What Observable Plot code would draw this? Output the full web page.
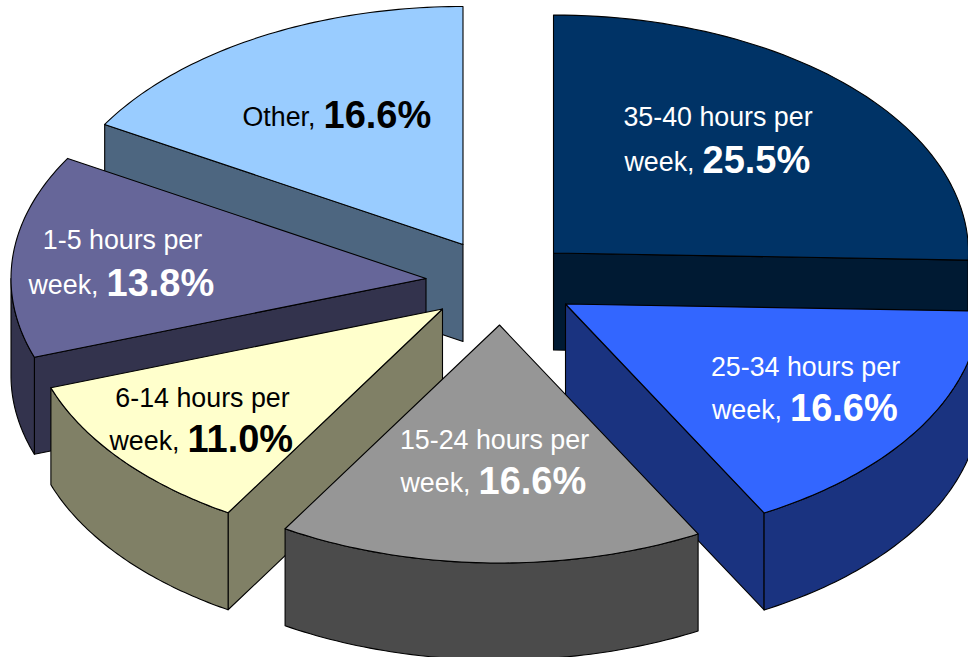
<!DOCTYPE html>
<html>
<head>
<meta charset="utf-8">
<script src="https://cdn.jsdelivr.net/npm/d3@7"></script>
<script src="https://cdn.jsdelivr.net/npm/@observablehq/plot@0.6"></script>
<style>html,body{margin:0;padding:0;background:#fff}svg{display:block}</style>
</head>
<body>
<div id="chart"></div>
<script>
// Data, clockwise from twelve o'clock
const categories = ["35-40 hours per week", "25-34 hours per week", "15-24 hours per week", "6-14 hours per week", "1-5 hours per week", "Other"];
const shares = [25.5, 16.6, 16.6, 11.0, 13.8, 16.6];

// Style and layout, kept apart from the data
const topColors = ["#003366", "#3366FF", "#969696", "#FFFFCC", "#666699", "#99CCFF"];
const sideColors = ["#001A33", "#1A3380", "#4B4B4B", "#808066", "#33334D", "#4D6680"];
const textColors = ["#fff", "#fff", "#fff", "#000", "#fff", "#000"];
const apexX = [553, 565, 499, 442, 425.5, 462.5];
const apexY = [252.5, 303.5, 324.5, 308.5, 278, 244];
const radiusX = 415, radiusY = 238, depth = 97;
const drawOrder = [5, 0, 4, 3, 1, 2];
const line1 = ["35-40 hours per", "25-34 hours per", "15-24 hours per", "6-14 hours per", "1-5 hours per", ""];
const line2 = ["week,", "week,", "week,", "week,", "week,", "Other,"];
const centerX = [717.5, 805, 494, 202, 122, 0];
const joinX = [694, 781.5, 470, 179, 98, 315];
const line1Y = [125, 375, 448, 406, 248, 0];
const line2Y = [170, 418, 491, 449, 293, 125];

const total = d3.sum(shares);
const starts = shares.map((_, i) => d3.sum(shares.slice(0, i)) / total * 2 * Math.PI);
const ends = shares.map((_, i) => d3.sum(shares.slice(0, i + 1)) / total * 2 * Math.PI);
const rim = (i, a, drop = 0) => ({
  x: apexX[i] + radiusX * Math.sin(a),
  y: apexY[i] - radiusY * Math.cos(a) + drop
});
const arc = (i, a0, a1, drop = 0) => d3.range(0, 61).map(k => rim(i, a0 + (a1 - a0) * k / 60, drop));

const faces = [];
function addFace(id, fill, pts) {
  pts.forEach(p => faces.push({face: id, fill, x: p.x, y: p.y}));
}
for (const i of drawOrder) {
  const apex = {x: apexX[i], y: apexY[i]};
  const low = {x: apexX[i], y: apexY[i] + depth};
  // cut faces: only those turned towards the viewer
  if (Math.sin(starts[i]) < -1e-6) addFace(i + "-a", sideColors[i], [apex, rim(i, starts[i]), rim(i, starts[i], depth), low]);
  if (Math.sin(ends[i]) > 1e-6) addFace(i + "-b", sideColors[i], [apex, rim(i, ends[i]), rim(i, ends[i], depth), low]);
  // outer wall: only the front half of the rim
  const a0 = Math.max(starts[i], Math.PI / 2), a1 = Math.min(ends[i], 3 * Math.PI / 2);
  if (a1 > a0) addFace(i + "-w", sideColors[i], [...arc(i, a0, a1), ...arc(i, a1, a0, depth)]);
  // top surface
  addFace(i + "-t", topColors[i], [apex, ...arc(i, starts[i], ends[i])]);
}

const rows = categories.map((c, i) => ({
  category: c, share: shares[i].toFixed(1) + "%", line1: line1[i], line2: line2[i],
  fill: textColors[i], cx: centerX[i], jx: joinX[i], y1: line1Y[i], y2: line2Y[i]
}));

const plot = Plot.plot({
  width: 968, height: 657,
  margin: 0,
  style: {background: "#fff", fontFamily: "'Liberation Sans', Arial, sans-serif"},
  x: {domain: [0, 968], range: [0, 968], axis: null},
  y: {domain: [0, 657], range: [0, 657], axis: null},
  color: {type: "identity"},
  marks: [
    Plot.line(faces, {x: "x", y: "y", z: "face", fill: "fill", stroke: "#000", strokeWidth: 1.1,
      strokeLinejoin: "round", curve: "linear-closed"}),
    Plot.text(rows.filter(d => d.line1), {x: "cx", y: "y1", text: "line1", fill: "fill", fontSize: 26.8,
      textAnchor: "middle", lineAnchor: "bottom"}),
    Plot.text(rows, {x: "jx", y: "y2", text: "line2", fill: "fill", fontSize: 26.8,
      textAnchor: "end", lineAnchor: "bottom"}),
    Plot.text(rows, {x: d => d.jx + 8, y: d => d.y2 + 2, text: "share", fill: "fill", fontSize: 38,
      fontWeight: "bold", textAnchor: "start", lineAnchor: "bottom"})
  ]
});
document.getElementById("chart").appendChild(plot);
</script>
</body>
</html>
